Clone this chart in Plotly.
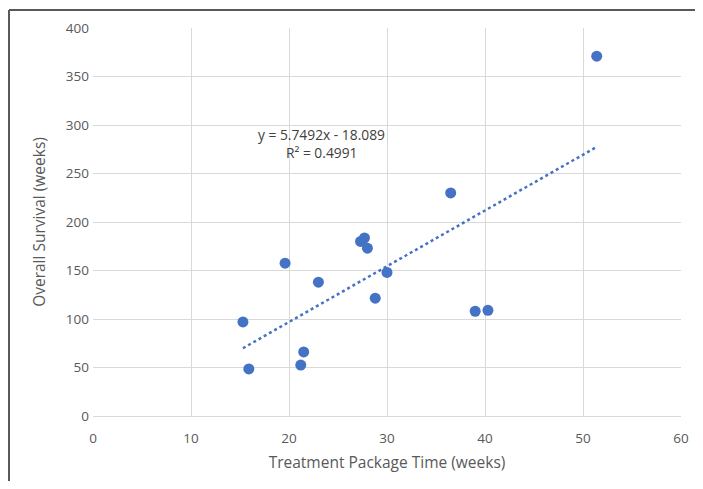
import plotly.graph_objects as go

treatment_weeks = [15.3, 15.9, 19.6, 21.2, 21.5, 23.0, 27.3, 27.7, 28.0, 28.8, 30.0, 36.5, 39.0, 40.3, 51.4]
survival_weeks = [97, 48.5, 157.5, 52.5, 66, 138, 180, 183.5, 173, 121.5, 148, 230, 108, 109, 371]
slope = 5.7492
intercept = -18.089
r_squared = 0.4991

x_ticks = [0, 10, 20, 30, 40, 50, 60]
y_ticks = [0, 50, 100, 150, 200, 250, 300, 350, 400]

xmin, xmax = min(treatment_weeks), max(treatment_weeks)
trend_x = [xmin, xmax]
trend_y = [slope * v + intercept for v in trend_x]

# page body has an 8px margin; work in page pixels and convert
OFF = 8
WIN_W, WIN_H = 703, 489
W, H = WIN_W - 2 * OFF, WIN_H - 2 * OFF
PL, PR, PT, PB = 93, 681, 28, 416  # plot area in page pixels
L = PL - OFF
T = PT - OFF
R = W - (PR - OFF)
B = H - (PB - OFF)
pw, ph = W - L - R, H - T - B

def px_x(p):
    return (p - PL) / pw

def px_y(p):
    return (PB - p) / ph

FONT = "Open Sans"
fig = go.Figure()
fig.add_trace(go.Scatter(x=trend_x, y=trend_y, mode="lines",
                         line=dict(color="#4472C4", width=2.5, dash="dot"),
                         hoverinfo="skip", showlegend=False))
fig.add_trace(go.Scatter(x=treatment_weeks, y=survival_weeks, mode="markers",
                         marker=dict(color="#4472C4", size=11),
                         showlegend=False))

fig.update_layout(
    width=W, height=H,
    margin=dict(l=L, r=R, t=T, b=B, autoexpand=False),
    paper_bgcolor="white", plot_bgcolor="white",
    font=dict(family=FONT, size=13.5, color="#595959"),
    xaxis=dict(range=[0, 60], tickvals=x_ticks, showgrid=True, gridcolor="#D9D9D9",
               gridwidth=1, zeroline=False, showline=True, linecolor="#D9D9D9",
               mirror=False, ticks="", ticklabelstandoff=10, automargin=False,
               title=dict(text="Treatment Package Time (weeks)", font=dict(size=15.5, color="#595959"), standoff=10),
               tickfont=dict(size=13.5, color="#595959")),
    yaxis=dict(range=[0, 400], tickvals=y_ticks, showgrid=True, gridcolor="#D9D9D9",
               gridwidth=1, zeroline=False, showline=False, ticks="", ticklabelstandoff=3,
               automargin=False,
               title=dict(text="Overall Survival (weeks)", font=dict(size=15.5, color="#595959"), standoff=16),
               tickfont=dict(size=13.5, color="#595959")),
    annotations=[
        dict(x=px_x(321), y=px_y(123), xref="paper", yref="paper",
             text=f"y = {slope}x - {abs(intercept)}", showarrow=False,
             font=dict(family=FONT, size=13.8, color="#404040")),
        dict(x=px_x(321), y=px_y(141), xref="paper", yref="paper",
             text=f"R² = {r_squared}", showarrow=False,
             font=dict(family=FONT, size=13.8, color="#404040")),
    ],
    shapes=[
        dict(type="line", xref="paper", yref="paper", x0=px_x(9), x1=px_x(720),
             y0=px_y(10), y1=px_y(10), line=dict(color="#595959", width=2)),
        dict(type="line", xref="paper", yref="paper", x0=px_x(9), x1=px_x(9),
             y0=px_y(10), y1=px_y(500), line=dict(color="#595959", width=2)),
    ],
)

fig.write_html("out.html")
